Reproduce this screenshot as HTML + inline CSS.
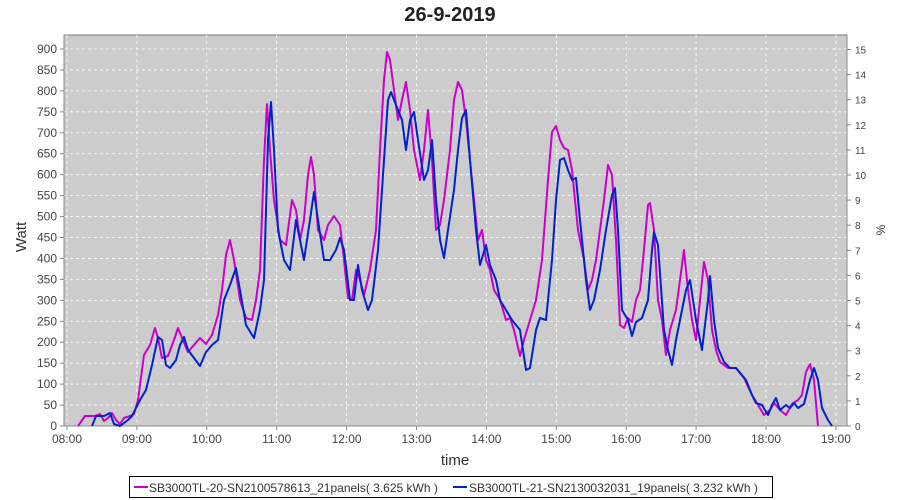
<!DOCTYPE html>
<html><head><meta charset="utf-8"><style>body{margin:0;background:#fff}svg{display:block;font-family:"Liberation Sans",sans-serif}</style></head><body>
<svg width="900" height="500" xmlns="http://www.w3.org/2000/svg">
<text x="450" y="21" text-anchor="middle" font-size="20" font-weight="bold" fill="#222">26-9-2019</text>
<rect x="64" y="35" width="783" height="391" fill="#cccccc" stroke="#777" stroke-width="1"/>
<g stroke="#fff" stroke-dasharray="3,3" stroke-width="0.8" id="grid"></g>
<g id="ax" font-size="12" fill="#444"></g>
<line x1="64" y1="35" x2="64" y2="426" stroke="#888"/>
<line x1="64" y1="426" x2="847" y2="426" stroke="#888"/>
<line x1="847" y1="35" x2="847" y2="426" stroke="#888"/>
<text x="0" y="0" transform="translate(26,237) rotate(-90)" text-anchor="middle" font-size="15" fill="#333">Watt</text>
<text x="0" y="0" transform="translate(885,230) rotate(-90)" text-anchor="middle" font-size="12" fill="#333">%</text>
<text x="455" y="465" text-anchor="middle" font-size="15" fill="#333">time</text>
<polyline fill="none" stroke="#cc00cc" stroke-width="2" stroke-linejoin="round" points="78,426 85,416 95,416 100,414 104,421 108,418 112,413 116,420 120,424 124,418 130,416 134,414 138,400 144,355 150,345 155,328 158,338 162,358 168,356 174,340 178,328 182,338 188,352 194,345 200,338 206,344 212,335 218,315 222,290 226,255 230,240 234,260 240,300 246,318 252,320 256,300 260,270 264,160 267,104 270,150 274,200 280,240 286,245 292,200 296,210 300,240 304,220 308,175 311,157 314,175 318,230 324,240 328,225 334,216 340,225 344,260 348,298 352,300 356,270 360,280 364,295 370,270 376,230 380,150 384,80 387,52 390,60 394,90 398,120 402,100 406,82 410,110 414,150 420,180 424,150 428,110 432,160 436,230 440,225 444,200 450,150 454,100 458,82 462,90 466,120 472,180 478,240 482,230 486,260 490,270 494,290 500,300 506,320 510,318 514,330 520,356 524,340 530,320 536,300 542,260 548,180 552,132 556,126 560,140 564,148 568,150 572,170 578,230 584,260 588,290 592,280 596,260 600,230 604,200 608,165 612,175 616,240 620,325 624,328 628,318 632,322 636,300 640,290 644,250 648,205 650,203 654,230 658,300 662,320 666,355 670,330 676,310 680,280 684,250 688,290 692,320 696,340 700,300 704,262 708,280 712,330 716,350 720,362 728,368 736,368 744,378 752,395 758,405 764,415 770,410 774,403 780,410 786,415 792,404 798,400 802,395 806,372 810,364 814,380 818,426"/>
<polyline fill="none" stroke="#0022cc" stroke-width="2" stroke-linejoin="round" points="92,426 96,416 104,416 110,413 114,424 120,426 128,420 132,416 136,408 140,400 146,390 152,365 158,337 162,340 166,365 170,368 176,360 180,345 184,337 188,350 194,358 200,366 206,352 212,345 218,340 224,300 230,285 236,268 240,290 246,325 254,338 260,310 264,280 268,140 271,102 274,150 278,230 284,260 290,270 296,220 298,230 304,260 310,220 314,192 318,220 324,260 330,260 336,250 340,238 344,250 350,300 354,300 358,265 362,290 368,310 372,300 378,250 384,160 388,100 391,92 396,105 402,120 406,150 410,120 414,112 418,140 424,180 428,170 432,140 436,200 440,240 444,258 448,230 454,190 458,150 462,118 466,110 470,160 476,230 480,265 486,245 490,265 496,280 500,300 506,310 512,320 520,330 526,370 530,368 536,330 540,318 546,320 552,260 556,200 560,160 564,158 568,170 572,180 576,178 580,220 586,280 590,310 594,300 600,270 606,230 612,195 615,188 618,230 622,310 628,320 632,336 636,322 642,318 648,300 652,250 654,232 658,245 664,330 668,350 672,365 676,340 680,320 686,290 690,280 696,320 702,350 708,300 710,276 714,320 718,348 724,362 730,368 736,368 746,380 752,395 756,403 762,405 768,415 772,405 776,398 780,410 786,405 790,408 794,403 798,408 804,404 810,380 814,368 818,380 822,408 828,420 832,426"/>
<rect x="129.5" y="476.5" width="643" height="21" fill="#fff" stroke="#000"/>
<line x1="134" y1="487" x2="148" y2="487" stroke="#cc00cc" stroke-width="2"/>
<text x="149" y="492" font-size="12" fill="#333">SB3000TL-20-SN2100578613_21panels( 3.625 kWh )</text>
<line x1="453" y1="487" x2="467" y2="487" stroke="#0022cc" stroke-width="2"/>
<text x="469" y="492" font-size="12" fill="#333">SB3000TL-21-SN2130032031_19panels( 3.232 kWh )</text>
<script>
var g=document.getElementById('grid'),a=document.getElementById('ax'),ns='http://www.w3.org/2000/svg';
function el(t,at,p,txt){var e=document.createElementNS(ns,t);for(var k in at)e.setAttribute(k,at[k]);if(txt!=null)e.textContent=txt;p.appendChild(e);}
for(var v=0;v<=900;v+=50){var y=426-v*377/900;if(v>0)el('line',{x1:64,x2:847,y1:y,y2:y},g);el('line',{x1:60,x2:64,y1:y,y2:y,stroke:'#888'},a);el('text',{x:57,y:y+4,'text-anchor':'end'},a,v);}
for(var p=0;p<=15;p++){var y=426-p*25.1;el('line',{x1:847,x2:851,y1:y,y2:y,stroke:'#888'},a);el('text',{x:855,y:y+4,'font-size':10},a,p);}
for(var h=8;h<=19;h++){var x=67+(h-8)*69.9;el('line',{x1:x,x2:x,y1:35,y2:426},g);el('line',{x1:x,x2:x,y1:426,y2:430,stroke:'#888'},a);el('text',{x:x,y:443,'text-anchor':'middle'},a,(h<10?'0':'')+h+':00');}
</script>
</svg>
</body></html>
